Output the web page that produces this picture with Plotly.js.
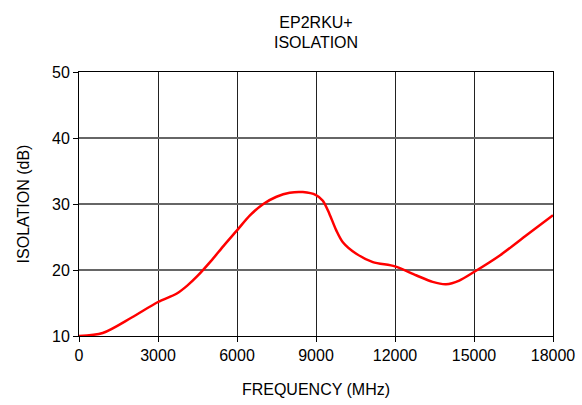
<!DOCTYPE html>
<html>
<head>
<meta charset="utf-8">
<script src="https://cdn.plot.ly/plotly-3.0.1.min.js"></script>
<style>html,body{margin:0;padding:0;background:#fff;}#chart{width:582px;height:405px;}</style>
</head>
<body>
<div id="chart"></div>
<script>
var freq = [0, 900, 2000, 3000, 3700, 4100, 4500, 5000, 5500, 6000, 6500, 7000, 7500, 8000, 8500, 9000, 9260, 9510, 9770, 10020, 10530, 11160, 12000, 12800, 13430, 13940, 14440, 15000, 15980, 16990, 18000];
var isolation = [10.0, 10.45, 12.8, 15.15, 16.4, 17.6, 19.1, 21.3, 23.7, 26.0, 28.3, 30.0, 31.1, 31.7, 31.8, 31.35, 30.5, 28.5, 26.0, 24.2, 22.45, 21.2, 20.55, 19.2, 18.2, 17.85, 18.4, 19.7, 22.2, 25.25, 28.3];
var xTicks = [0, 3000, 6000, 9000, 12000, 15000, 18000];
var yTicks = [10, 20, 30, 40, 50];

var font = {family: 'Liberation Sans, Arial, sans-serif', color: '#000'};
var trace = {
  x: freq, y: isolation, type: 'scatter', mode: 'lines',
  line: {color: '#ff0000', width: 2.5, shape: 'spline', smoothing: 0.8},
  hoverinfo: 'none'
};
var layout = {
  width: 582, height: 405,
  margin: {l: 79, r: 29, t: 72, b: 69},
  paper_bgcolor: '#fff', plot_bgcolor: '#fff',
  showlegend: false,
  font: {family: font.family, color: '#000', size: 16},
  title: {text: 'EP2RKU+<br>ISOLATION', x: 0.543, xanchor: 'center', y: 0.932, yanchor: 'middle',
          font: {family: font.family, size: 16, color: '#000'}},
  xaxis: {
    range: [0, 18000], tickvals: xTicks, ticktext: xTicks.map(String),
    showgrid: true, gridcolor: '#222', gridwidth: 1,
    showline: true, linecolor: '#000', linewidth: 1, mirror: true,
    ticks: 'outside', ticklen: 5, tickcolor: '#000',
    tickfont: {family: font.family, size: 16, color: '#000'},
    zeroline: false,
    title: {text: 'FREQUENCY (MHz)', standoff: 20, font: {family: font.family, size: 16, color: '#000'}}
  },
  yaxis: {
    range: [10, 50], tickvals: yTicks, ticktext: yTicks.map(String),
    showgrid: true, gridcolor: '#666', gridwidth: 1.5,
    showline: true, linecolor: '#000', linewidth: 1, mirror: true,
    ticks: 'outside', ticklen: 5, tickcolor: '#000',
    tickfont: {family: font.family, size: 16, color: '#000'},
    zeroline: false,
    title: {text: 'ISOLATION (dB)', standoff: 18, font: {family: font.family, size: 16, color: '#000'}}
  }
};
Plotly.newPlot('chart', [trace], layout, {staticPlot: true, displayModeBar: false});
</script>
</body>
</html>
